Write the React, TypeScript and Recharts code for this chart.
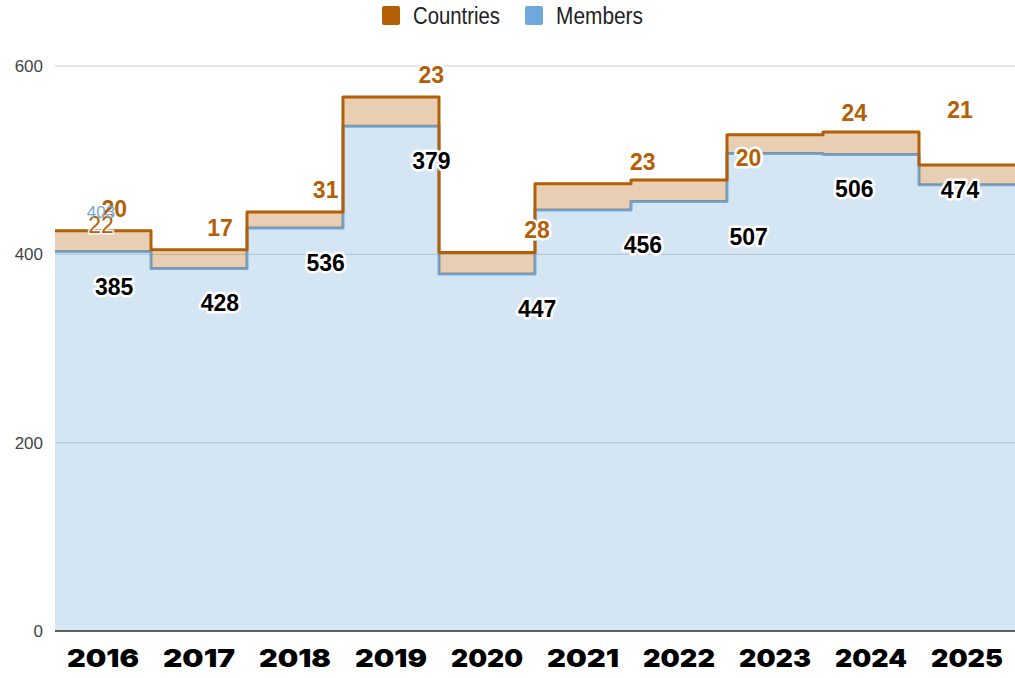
import React from "react";
import {
  Area,
  CartesianGrid,
  ComposedChart,
  LabelList,
  Line,
  XAxis,
  YAxis,
} from "recharts";

const years = ["2016", "2017", "2018", "2019", "2020", "2021", "2022", "2023", "2024", "2025"];
const members = [403, 385, 428, 536, 379, 447, 456, 507, 506, 474];
const countries = [22, 20, 17, 31, 23, 28, 23, 20, 24, 21];
const yTicks = [0, 200, 400, 600];

const ORANGE = "#b45f06";
const BLUE = "#6fa8dc";
const FONT = '"Liberation Sans", Arial, sans-serif';

const legendItems = [
  { label: "Countries", color: ORANGE },
  { label: "Members", color: BLUE },
];

// stepAfter: one row per year at its left edge, plus a closing row so 2025 gets a full band
const areaRows = years.map((year, i) => ({ x: i, members: members[i], countries: countries[i] }));
areaRows.push({
  x: years.length,
  members: members[members.length - 1],
  countries: countries[countries.length - 1],
});

// the sheet's value labels are shifted one year and spread over 9 even slots
const labelRows = years.slice(1).map((_, k) => ({
  x: k + 0.5,
  memberPos: members[k],
  memberLabel: members[k + 1],
  topPos: members[k] + countries[k],
  countryLabel: countries[k + 1],
}));

// 2016's own values, drawn small at its band centre
const firstRow = [
  {
    x: 0.5,
    memberPos: members[0],
    memberLabel: members[0],
    topPos: members[0] + countries[0],
    countryLabel: countries[0],
  },
];

const yearTicks = years.map((_, i) => i + 0.5);

const outline = {
  stroke: "#fff",
  strokeWidth: 5,
  strokeLinejoin: "round" as const,
  paintOrder: "stroke",
};

function YearTick(props: any) {
  const { x, y, payload } = props;
  return (
    <text
      x={x}
      y={y + 19}
      textAnchor="middle"
      dominantBaseline="central"
      fontFamily="Inter, 'Liberation Sans', sans-serif"
      fontWeight={900}
      fontSize={25}
      fill="#000"
      textLength={72}
      lengthAdjust="spacingAndGlyphs"
    >
      {years[Math.floor(payload.value)]}
    </text>
  );
}

function MemberLabel(props: any) {
  const { x, y, value } = props;
  return (
    <text
      x={x}
      y={y + 35}
      textAnchor="middle"
      dominantBaseline="central"
      fontFamily={FONT}
      fontWeight={700}
      fontSize={23}
      fill="#000"
      {...outline}
    >
      {value}
    </text>
  );
}

function CountryLabel(props: any) {
  const { x, y, value } = props;
  return (
    <text
      x={x}
      y={y - 22}
      textAnchor="middle"
      dominantBaseline="central"
      fontFamily={FONT}
      fontWeight={700}
      fontSize={23}
      fill={ORANGE}
      {...outline}
    >
      {value}
    </text>
  );
}

function SmallMemberLabel(props: any) {
  const { x, y, value } = props;
  return (
    <text
      x={x - 2}
      y={y - 39}
      textAnchor="middle"
      dominantBaseline="central"
      fontFamily={FONT}
      fontSize={17}
      fill={BLUE}
    >
      {value}
    </text>
  );
}

function SmallCountryLabel(props: any) {
  const { x, y, value } = props;
  return (
    <text
      x={x - 2}
      y={y - 6}
      textAnchor="middle"
      dominantBaseline="central"
      fontFamily={FONT}
      fontSize={23}
      fill={ORANGE}
      stroke="#fff"
      strokeWidth={3}
      strokeLinejoin="round"
      paintOrder="stroke"
    >
      {value}
    </text>
  );
}

function Legend() {
  return (
    <svg width={1015} height={34} style={{ position: "absolute", left: 0, top: 0 }}>
      {legendItems.map((it, i) => (
        <g key={it.label} transform={`translate(${382 + i * 143}, 0)`}>
          <rect x={0} y={6} width={18} height={19} rx={2} fill={it.color} />
          <text
            x={31}
            y={16}
            dominantBaseline="central"
            fontFamily={FONT}
            fontSize={23}
            fill="#222"
            textLength={87}
            lengthAdjust="spacingAndGlyphs"
          >
            {it.label}
          </text>
        </g>
      ))}
    </svg>
  );
}

const hiddenDot = { r: 0, fill: "none", stroke: "none" };

function labelCarrier(key: string, data: any[], dataKey: string, labelKey: string, content: any, axis?: string) {
  return (
    <Line
      key={key}
      xAxisId={axis ?? 0}
      data={data}
      dataKey={dataKey}
      stroke="none"
      dot={hiddenDot}
      activeDot={false}
      legendType="none"
      isAnimationActive={false}
    >
      <LabelList dataKey={labelKey} content={content} />
    </Line>
  );
}

export default function App() {
  return (
    <div style={{ position: "absolute", left: 0, top: 0, width: 1015, height: 678, background: "#fff" }}>
      <ComposedChart
        width={1015}
        height={678}
        data={areaRows}
        margin={{ top: 66, right: 0, bottom: 0, left: 0 }}
      >
        <CartesianGrid vertical={false} stroke="#cccccc" />
        <XAxis
          dataKey="x"
          type="number"
          domain={[0, years.length]}
          ticks={yearTicks}
          interval={0}
          height={47}
          tickLine={false}
          axisLine={{ stroke: "#333", strokeWidth: 1.5 }}
          tick={<YearTick />}
        />
        <XAxis
          xAxisId="lbl"
          dataKey="x"
          type="number"
          domain={[-0.06, labelRows.length + 0.02]}
          allowDataOverflow
          hide
        />
        <YAxis
          domain={[0, 600]}
          ticks={yTicks}
          width={55}
          axisLine={false}
          tickLine={false}
          tickMargin={6}
          tick={{ fill: "#444", fontSize: 17, fontFamily: FONT }}
        />
        <Area
          type="stepAfter"
          dataKey="members"
          stackId="a"
          stroke={BLUE}
          strokeWidth={3}
          strokeLinejoin="round"
          fill={BLUE}
          fillOpacity={0.3}
          isAnimationActive={false}
        />
        <Area
          type="stepAfter"
          dataKey="countries"
          stackId="a"
          stroke={ORANGE}
          strokeWidth={3}
          strokeLinejoin="round"
          fill={ORANGE}
          fillOpacity={0.3}
          isAnimationActive={false}
        />
        {labelCarrier("m", labelRows, "memberPos", "memberLabel", <MemberLabel />, "lbl")}
        {labelCarrier("c", labelRows, "topPos", "countryLabel", <CountryLabel />, "lbl")}
        {labelCarrier("c0", firstRow, "topPos", "countryLabel", <SmallCountryLabel />)}
        {labelCarrier("m0", firstRow, "memberPos", "memberLabel", <SmallMemberLabel />)}
      </ComposedChart>
      <Legend />
    </div>
  );
}
